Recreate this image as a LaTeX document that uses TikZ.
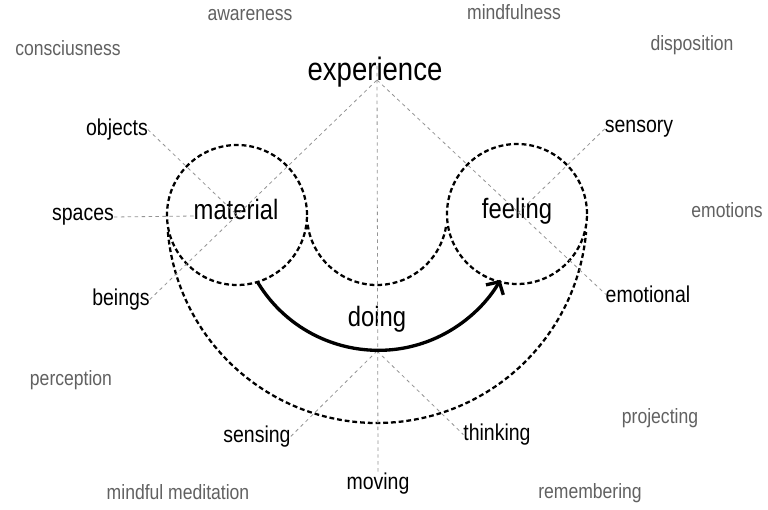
\documentclass[tikz,border=0pt]{standalone}
\usepackage{fontspec}
\setmainfont{Liberation Sans}[FakeStretch=0.85]
\usetikzlibrary{arrows.meta}
\begin{document}
\begin{tikzpicture}[x=0.75pt,y=-0.75pt,
  every node/.style={inner sep=0pt, outer sep=0pt},
  bigword/.style={font=\fontsize{24.3}{28}\selectfont, anchor=mid},
  mainword/.style={font=\fontsize{21}{25}\selectfont, anchor=mid},
  subword/.style={font=\fontsize{17.2}{20}\selectfont, anchor=mid},
  outerword/.style={font=\fontsize{15.5}{18}\selectfont, text=black!62, anchor=mid},
  guide/.style={draw=black!42, dash pattern=on 2.6pt off 2.6pt, line width=0.6pt},
  ring/.style={draw=black, dash pattern=on 3.6pt off 2.2pt, line width=1.7pt},
  flow/.style={draw=black, line width=2.5pt,
    -{Straight Barb[length=7pt,width=15pt,line width=2.5pt]}}
]
\useasboundingbox (0,0) rectangle (768,510);
\fill[white] (0,0) rectangle (768,510);

% reference points for the guide lines
\coordinate (apex) at (377,80);
\coordinate (spine) at (377,66);
\coordinate (base) at (377,351);

% the two rings and the arcs that join them
\node[ring, circle, minimum size=105pt] (matring) at (237,215) {};
\node[ring, circle, minimum size=105pt] (feelring) at (517,214) {};
\draw[ring] (377,215) ++(172:70) arc[start angle=172, end angle=8, radius=70];
\draw[ring] (377,213) ++(174.8:210) arc[start angle=174.8, end angle=5.2, radius=210];

% main words
\node[bigword] (experience) at (375,77) {experience};
\node[mainword] (material) at (236,216) {material};
\node[mainword] (feeling) at (517,215) {feeling};
\node[mainword] (doing) at (377,323) {doing};

% sub words
\node[subword] (objects) at (117,132) {objects};
\node[subword] (spaces) at (83,217) {spaces};
\node[subword] (beings) at (121,302) {beings};
\node[subword] (sensory) at (639,129) {sensory};
\node[subword] (emotional) at (648,299) {emotional};
\node[subword] (sensing) at (257,439) {sensing};
\node[subword] (thinking) at (497,437) {thinking};
\node[subword] (moving) at (378,486) {moving};

% surrounding words
\node[outerword] (awareness) at (250,17) {awareness};
\node[outerword] (mindfulness) at (514,16) {mindfulness};
\node[outerword] (consciusness) at (68,52) {consciusness};
\node[outerword] (disposition) at (692,47) {disposition};
\node[outerword] (emotions) at (727,214) {emotions};
\node[outerword] (perception) at (71,382) {perception};
\node[outerword] (projecting) at (660,420) {projecting};
\node[outerword] (meditation) at (178,496) {mindful meditation};
\node[outerword] (remembering) at (590,495) {remembering};

% guide lines
\draw[guide] (objects.east) -- (matring.center);
\draw[guide] (spaces.mid east) -- (material.mid west);
\draw[guide] (beings.east) -- (apex);
\draw[guide] (apex) -- (emotional.west);
\draw[guide] (sensory.west) -- (feelring.center);
\draw[guide] (spine) -- (moving.north);
\draw[guide] (base) -- (sensing.east);
\draw[guide] (base) -- (thinking.west);

% doing: from material to feeling
\draw[flow] (matring.-73) arc[start angle=149, end angle=30, radius=141];
\end{tikzpicture}
\end{document}
